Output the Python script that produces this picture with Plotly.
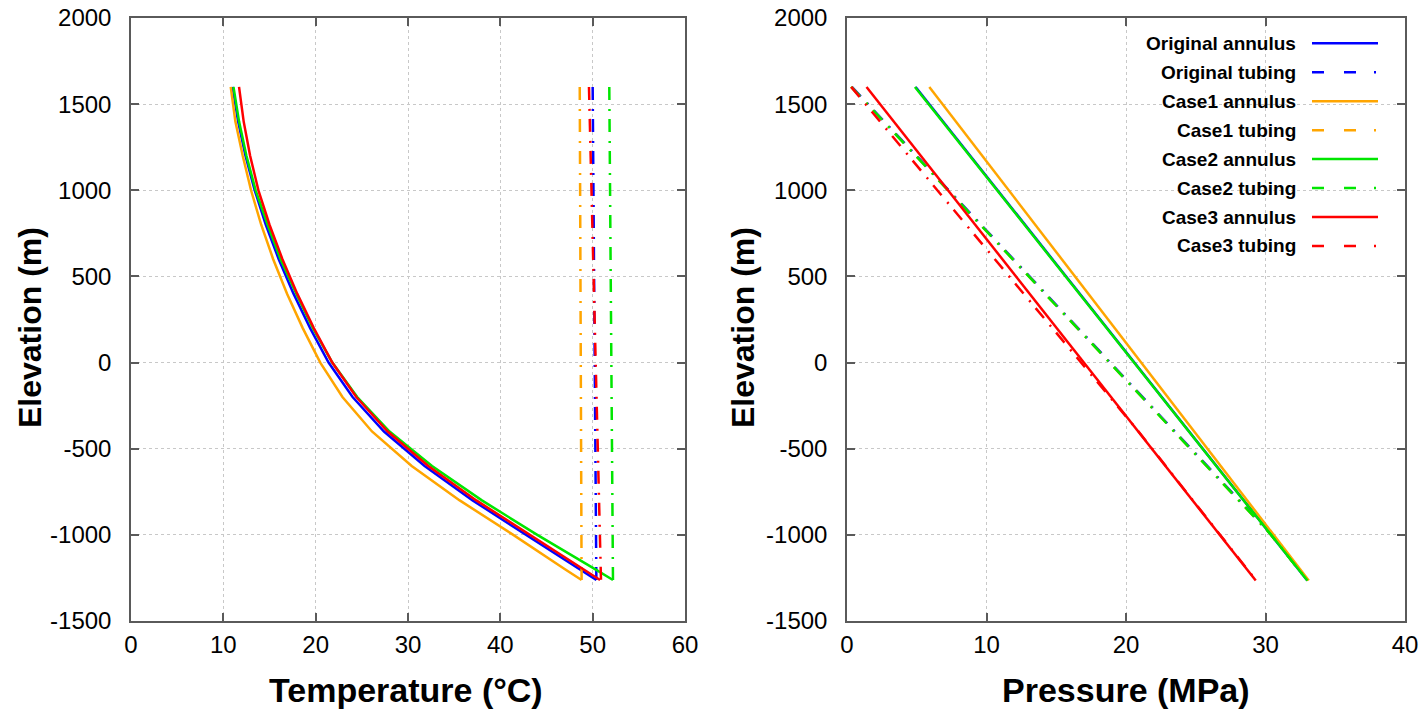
import plotly.graph_objects as go

W, H = 1427, 716
OFF = 0  # body margin removed via post_script

# ---------------- data ----------------
series_names = ["Original annulus", "Original tubing", "Case1 annulus", "Case1 tubing",
                "Case2 annulus", "Case2 tubing", "Case3 annulus", "Case3 tubing"]
colors = {"Original": "#0000ff", "Case1": "#ffa500", "Case2": "#00e600", "Case3": "#ff0000"}

elev_ticks = [2000, 1500, 1000, 500, 0, -500, -1000, -1500]
elev_labels = ["2000", "1500", "1000", "500", "0", "-500", "-1000", "-1500"]
temp_ticks = [0, 10, 20, 30, 40, 50, 60]
pres_ticks = [0, 10, 20, 30, 40]

# Temperature profiles (left panel)
z_ann_T = [1600, 1400, 1200, 1000, 800, 600, 400, 200, 0, -200, -400, -600, -800, -1000, -1200, -1262]
T_orig_ann = [11.0, 11.6, 12.4, 13.4, 14.6, 16.0, 17.6, 19.4, 21.4, 24.0, 27.4, 31.8, 37.0, 42.8, 48.6, 50.4]
T_case1_ann = [10.8, 11.3, 12.1, 13.0, 14.1, 15.4, 16.9, 18.6, 20.5, 22.9, 26.1, 30.4, 35.6, 41.4, 47.0, 48.8]
T_case2_ann = [11.1, 11.7, 12.5, 13.5, 14.8, 16.2, 17.9, 19.7, 21.8, 24.5, 28.0, 32.6, 38.0, 44.0, 50.3, 52.2]
T_case3_ann = [11.7, 12.2, 12.9, 13.8, 15.0, 16.4, 18.0, 19.8, 21.8, 24.4, 27.8, 32.2, 37.4, 43.2, 49.0, 50.8]

z_tub_T = [1600, -1262]
T_orig_tub = [50.0, 50.4]
T_case1_tub = [48.6, 48.8]
T_case2_tub = [51.8, 52.2]
T_case3_tub = [49.6, 50.9]

# Pressure profiles (right panel)
z_P_lin = [1600, -1265]
P_orig_ann = [4.92, 33.0]
P_case2_ann = [4.87, 33.0]
P_case3_ann = [1.4, 29.3]
z_P_case1_ann = [1600, -681, -1265]
P_case1_ann = [5.9, 27.6, 33.1]

z_P_tub = [1600, -1000, -1265]
P_orig_tub = [0.35, 30.45, 33.0]
P_case1_tub = [0.3, 30.4, 33.0]
P_case2_tub = [0.3, 30.4, 33.0]
z_P_case3_tub = [1600, -400, -1262]
P_case3_tub = [0.3, 20.9, 29.3]

# ---------------- figure ----------------
fig = go.Figure()
LW = 2.5
TUB_DASH = "13px,9px,2px,8px"

def add(x, y, color, dash, xa, ya):
    fig.add_trace(go.Scatter(x=x, y=y, mode="lines", xaxis=xa, yaxis=ya, showlegend=False,
                             hoverinfo="skip", line=dict(color=color, width=LW, dash=dash)))

# left panel in legend order
add(T_orig_ann, z_ann_T, colors["Original"], "solid", "x", "y")
add(T_orig_tub, z_tub_T, colors["Original"], TUB_DASH, "x", "y")
add(T_case1_ann, z_ann_T, colors["Case1"], "solid", "x", "y")
add(T_case1_tub, z_tub_T, colors["Case1"], TUB_DASH, "x", "y")
add(T_case2_ann, z_ann_T, colors["Case2"], "solid", "x", "y")
add(T_case2_tub, z_tub_T, colors["Case2"], TUB_DASH, "x", "y")
add(T_case3_ann, z_ann_T, colors["Case3"], "solid", "x", "y")
add(T_case3_tub, z_tub_T, colors["Case3"], TUB_DASH, "x", "y")

# right panel
add(P_orig_ann, z_P_lin, colors["Original"], "solid", "x2", "y2")
add(P_orig_tub, z_P_tub, colors["Original"], TUB_DASH, "x2", "y2")
add(P_case1_ann, z_P_case1_ann, colors["Case1"], "solid", "x2", "y2")
add(P_case1_tub, z_P_tub, colors["Case1"], TUB_DASH, "x2", "y2")
add(P_case2_ann, z_P_lin, colors["Case2"], "solid", "x2", "y2")
add(P_case2_tub, z_P_tub, colors["Case2"], TUB_DASH, "x2", "y2")
add(P_case3_ann, z_P_lin, colors["Case3"], "solid", "x2", "y2")
add(P_case3_tub, z_P_case3_tub, colors["Case3"], TUB_DASH, "x2", "y2")

FONT = "Liberation Sans, Arial, sans-serif"
AX_COLOR = "#5a5a5a"
common = dict(showline=True, linecolor=AX_COLOR, linewidth=1.5, mirror="ticks",
              ticks="inside", ticklen=8, tickwidth=1.5, tickcolor=AX_COLOR,
              showgrid=True, gridcolor="#c8c8c8", griddash="dot", gridwidth=1,
              zeroline=False, automargin=False, ticklabeloverflow="allow",
              tickfont=dict(family=FONT, size=24, color="#000"))

def px_x(p):
    return (p - OFF) / W

def px_y(p):
    return 1 - (p - OFF) / H

fig.update_layout(
    width=W, height=H, margin=dict(l=0, r=0, t=0, b=0, pad=0, autoexpand=False),
    paper_bgcolor="white", plot_bgcolor="white",
    font=dict(family=FONT, color="#000"),
    xaxis=dict(domain=[px_x(131), px_x(685)], range=[0, 60], tickvals=temp_ticks, anchor="y",
               ticklabelstandoff=1, **common),
    yaxis=dict(domain=[px_y(621), px_y(18)], range=[-1500, 2000], tickvals=elev_ticks,
               ticktext=elev_labels, anchor="x", ticklabelstandoff=13, **common),
    xaxis2=dict(domain=[px_x(847), px_x(1405)], range=[0, 40], tickvals=pres_ticks, anchor="y2",
                ticklabelstandoff=1, **common),
    yaxis2=dict(domain=[px_y(621), px_y(18)], range=[-1500, 2000], tickvals=elev_ticks,
                ticktext=elev_labels, anchor="x2", ticklabelstandoff=13, **common),
)

# axis titles
XTF = dict(family=FONT, size=34, color="#000")
YTF = dict(family=FONT, size=32, color="#000")
ann = [
    dict(text="<b>Temperature (°C)</b>", x=px_x(406), y=px_y(690), showarrow=False, font=XTF,
         xref="paper", yref="paper", xanchor="center", yanchor="middle"),
    dict(text="<b>Pressure (MPa)</b>", x=px_x(1126), y=px_y(690), showarrow=False, font=XTF,
         xref="paper", yref="paper", xanchor="center", yanchor="middle"),
    dict(text="<b>Elevation (m)</b>", x=px_x(30), y=px_y(328), showarrow=False, font=YTF, textangle=-90,
         xref="paper", yref="paper", xanchor="center", yanchor="middle"),
    dict(text="<b>Elevation (m)</b>", x=px_x(743), y=px_y(328), showarrow=False, font=YTF, textangle=-90,
         xref="paper", yref="paper", xanchor="center", yanchor="middle"),
]

# legend box (manual, gnuplot style: text left, sample right)
shapes = [dict(type="rect", xref="paper", yref="paper", x0=px_x(1085), x1=px_x(1402),
               y0=px_y(258), y1=px_y(22), fillcolor="white", line=dict(width=0), layer="between")]
LEG_DASH = "12px,20px,12px,18px,2px,200px"
row0, drow = 43.3, 28.95
for i, name in enumerate(series_names):
    key = name.split()[0]
    yy = px_y(row0 + i * drow)
    ann.append(dict(text="<b>" + name + "</b>", x=px_x(1298), y=yy, showarrow=False,
                    font=dict(family=FONT, size=19, color="#000"), xref="paper", yref="paper",
                    xanchor="right", yanchor="middle"))
    shapes.append(dict(type="line", xref="paper", yref="paper", x0=px_x(1312), x1=px_x(1378),
                       y0=yy, y1=yy, line=dict(color=colors[key], width=LW,
                                               dash="solid" if "annulus" in name else LEG_DASH)))

fig.update_layout(annotations=ann, shapes=shapes, hovermode=False)
fig.write_html("out.html", config={"displayModeBar": False},
               post_script="document.body.style.margin='0';document.body.style.overflow='hidden';")
